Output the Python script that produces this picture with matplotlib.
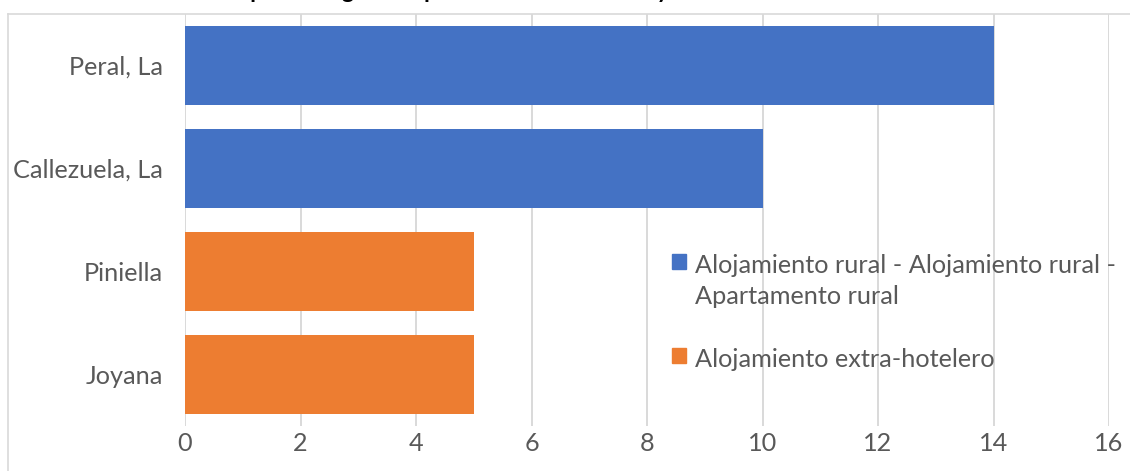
import matplotlib.pyplot as plt
from matplotlib.lines import Line2D

# --- Data ---
entities = ['Peral, La', 'Callezuela, La', 'Piniella', 'Joyana']
plazas = [14, 10, 5, 5]
series = ['Alojamiento rural - Alojamiento rural -\nApartamento rural',
          'Alojamiento rural - Alojamiento rural -\nApartamento rural',
          'Alojamiento extra-hotelero',
          'Alojamiento extra-hotelero']
series_names = ['Alojamiento rural - Alojamiento rural -\nApartamento rural',
                'Alojamiento extra-hotelero']
series_colors = ['#4472C4', '#ED7D31']
xticks = [0, 2, 4, 6, 8, 10, 12, 14, 16]
title = 'Número de plazas según el tipo de establecimiento y entidad'

plt.rcParams['font.family'] = ['Lato', 'DejaVu Sans']

W, H = 1130, 471
fig = plt.figure(figsize=(W / 100, H / 100), dpi=100)
ax = fig.add_axes([185 / W, 1 - 426 / H, (1109 - 185) / W, (426 - 14) / H])

# --- Bars ---
ypos = list(range(len(entities)))
colors = [series_colors[series_names.index(s)] for s in series]
ax.barh(ypos, plazas, height=0.76, color=colors, zorder=3)

ax.set_ylim(len(entities) - 0.5, -0.5)
ax.set_yticks(ypos)
ax.set_yticklabels(entities)
ax.set_xlim(0, 16)
ax.set_xticks(xticks)

fs = 18.2
ax.grid(axis='x', color='#D9D9D9', linewidth=1.4, zorder=0)
ax.tick_params(axis='both', length=0, labelsize=fs, colors='#595959')
ax.tick_params(axis='y', pad=16)
ax.tick_params(axis='x', pad=4)
for s in ax.spines.values():
    s.set_visible(False)

# --- Legend ---
handles = [plt.Rectangle((0, 0), 1, 1, color=c) for c in series_colors]
leg = ax.legend(handles, series_names, loc='upper left',
                bbox_to_anchor=((672 - 185) / (1109 - 185), (426 - 254) / (426 - 14)),
                frameon=False, fontsize=fs, labelcolor='#595959',
                handlelength=0.55, handleheight=0.55, handletextpad=0.35,
                labelspacing=1.6, borderpad=0, borderaxespad=0)
for t in leg.get_texts():
    t.set_linespacing(1.4)
# marker next to the first line of a wrapped label, as in Excel
for col in leg._legend_handle_box.get_children():
    for row in col.get_children():
        row.align = 'top'

# --- Chart border (partial) and cropped title ---
fig.add_artist(Line2D([8 / W, 1], [1 - 14 / H, 1 - 14 / H], color='#D9D9D9', lw=1.2))
fig.add_artist(Line2D([8 / W, 8 / W], [0, 1 - 14 / H], color='#D9D9D9', lw=1.2))
fig.text(441 / W, 1 + 1.5 / H, title, ha='center', va='baseline', fontsize=16.7,
         fontweight='bold', color='black')

fig.savefig('out.png', dpi=100)
